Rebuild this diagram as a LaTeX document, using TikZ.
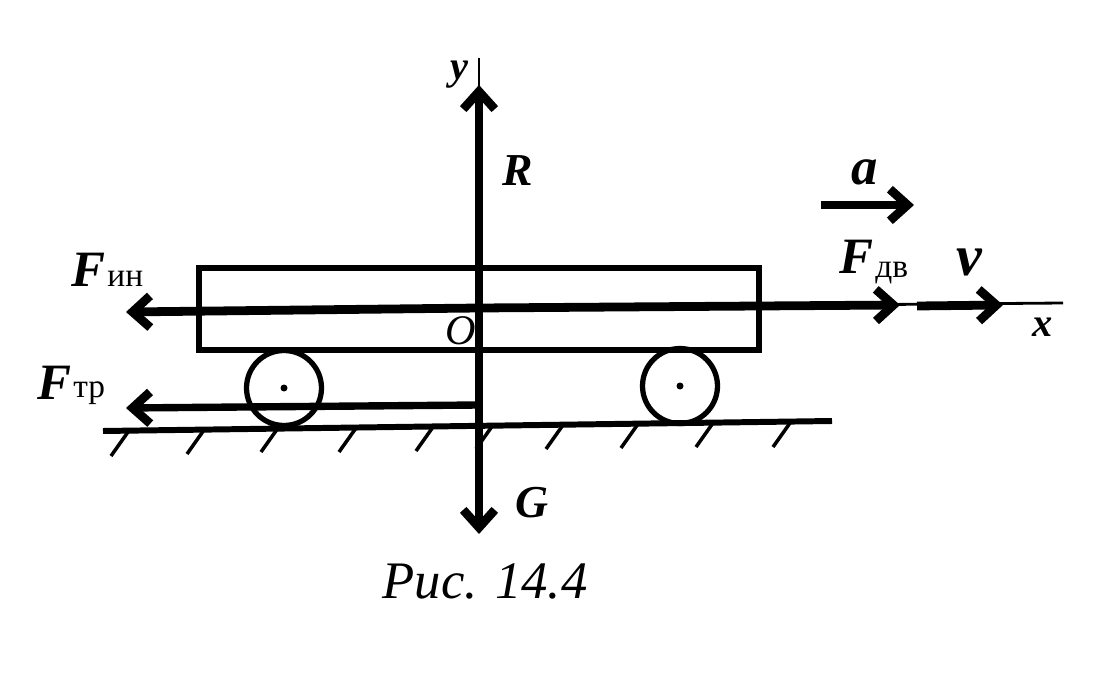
\documentclass[tikz,border=0pt]{standalone}
\usepackage{fontspec}
\setmainfont{Liberation Serif}
\usetikzlibrary{positioning, arrows.meta}

\tikzset{
  force/.style={line width=5pt, -{Straight Barb[length=10pt, width=18pt, line width=5pt]}},
  thinline/.style={line width=1.6pt},
  bodyline/.style={line width=3pt},
  hatchline/.style={line width=2pt},
  vec/.style={font=\fontsize{26}{26}\selectfont\bfseries\itshape, inner sep=0pt},
  bigvec/.style={font=\fontsize{29}{29}\selectfont\bfseries\itshape, inner sep=0pt},
  sub/.style={font=\fontsize{19}{19}\selectfont, inner sep=0pt},
  axis/.style={font=\fontsize{23}{23}\selectfont\bfseries\itshape, inner sep=0pt}
}

\begin{document}
\begin{tikzpicture}[x=0.02cm, y=-0.02cm]
\useasboundingbox (0,0) rectangle (1099,689);

% Opornye tochki
\coordinate (O) at (479,308);
\coordinate (yTop) at (479,58);
\coordinate (xEnd) at (1063,303);
\coordinate (Rtip) at (479,85);
\coordinate (Gtip) at (479,534);
\coordinate (Ftip) at (900,305);
\coordinate (Fin) at (126,312);
\coordinate (Ftr0) at (479,405);
\coordinate (Ftr) at (126,408);
\coordinate (v0) at (917,306);
\coordinate (vtip) at (1003,305);
\coordinate (a0) at (821,205);
\coordinate (atip) at (914,205);
\coordinate (gL) at (103,431);
\coordinate (gR) at (832,421);

% Telezhka
\node[draw, bodyline, minimum width=11.2cm, minimum height=1.64cm, inner sep=0pt] (cart) at (479,309) {};
\node[draw, bodyline, circle, minimum size=1.5cm, inner sep=0pt] (wheelL) at (284,388) {};
\node[draw, bodyline, circle, minimum size=1.5cm, inner sep=0pt] (wheelR) at (680,386) {};
\fill (wheelL) circle (3.5);
\fill (wheelR) circle (3.5);

% Poverkhnost
\draw[line width=3.4pt] (gL) -- (gR);
\foreach \hx/\hy in {128/432, 204/430, 278/428, 356/428, 433/427, 493/425, 563/425, 638/424, 713/423, 790/423}
  \draw[hatchline] (\hx,\hy) -- ++(-17,24);

% Osi
\draw[thinline] (O) -- (yTop);
\draw[thinline] (O) -- (xEnd);

% Sily
\draw[force] (O) -- (Rtip);
\draw[force] (O) -- (Gtip);
\draw[force] (O) -- (Ftip);
\draw[force] (O) -- (Fin);
\draw[force, line width=4.2pt] (Ftr0) -- (Ftr);
\draw[force] (v0) -- (vtip);
\draw[force] (a0) -- (atip);

% Podpisi
\node[axis] (ylabel) at (459,75) {y};
\node[axis] (xlabel) at (1043,327) {x};
\node[inner sep=0pt, font=\fontsize{24}{24}\selectfont\itshape] (Olabel) at (461,331) {O};
\node[vec] (Rlabel) at (518,171) {R};
\node[vec] (Glabel) at (532,503) {G};
\node[vec, font=\fontsize{30}{30}\selectfont\bfseries\itshape] (alabel) at (865,172) {a};
\node[vec, font=\fontsize{33}{33}\selectfont\bfseries\itshape] (vlabel) at (969,262) {v};
\node[bigvec] (Fin1) at (88,270) {F};
\node[sub, right=1pt of Fin1.south east, anchor=south west] (inlabel) {ин};
\node[bigvec] (Ftr1) at (54,383) {F};
\node[sub, right=1pt of Ftr1.south east, anchor=south west, yshift=-3pt] (trlabel) {тр};
\node[bigvec] (Fdv1) at (856,257) {F};
\node[sub, right=1pt of Fdv1.south east, anchor=south west, yshift=-6pt] (dvlabel) {дв};
\node[inner sep=0pt, font=\fontsize{30}{30}\selectfont\itshape] (caption) at (485,581) {Рис. 14.4};

\end{tikzpicture}
\end{document}
